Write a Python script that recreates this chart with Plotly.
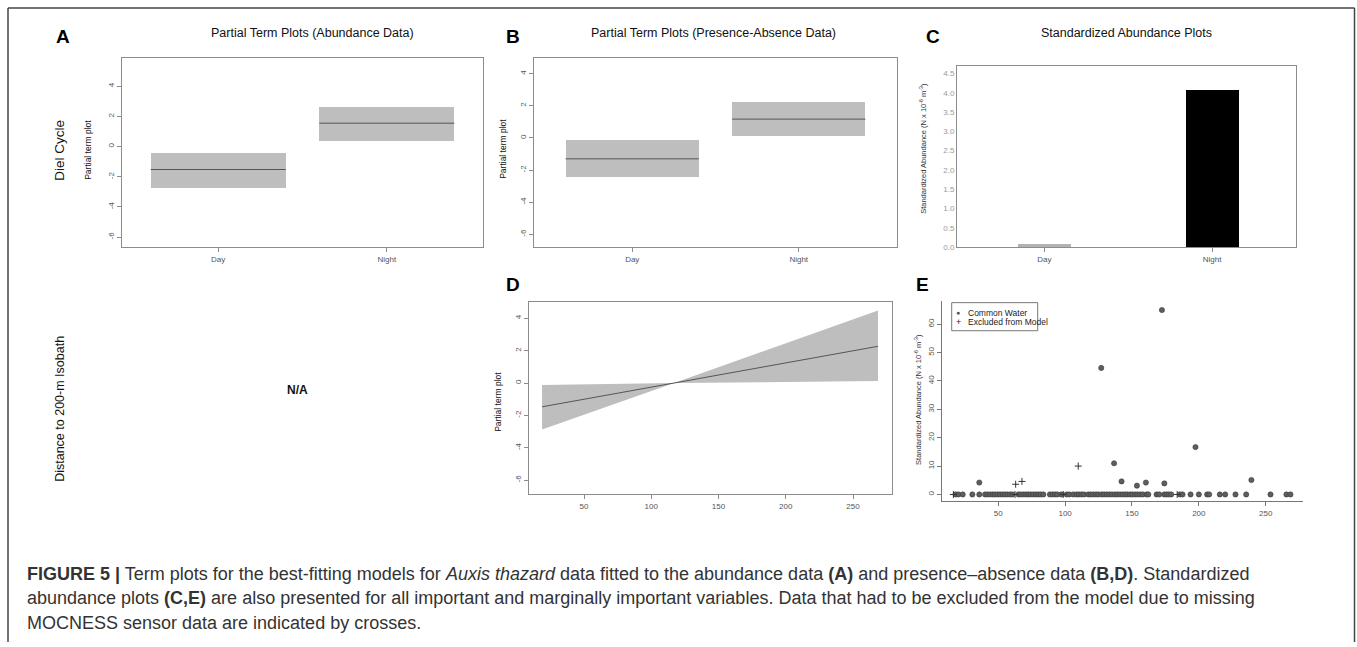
import plotly.graph_objects as go

W, H = 1357, 647

# ---------------- data ----------------
diel = ["Day", "Night"]

# A: partial term plot, abundance model
abund_fit = [-1.52, 1.55]
abund_lo = [-2.72, 0.39]
abund_hi = [-0.38, 2.66]

# B: partial term plot, presence-absence model
pa_fit = [-1.30, 1.17]
pa_lo = [-2.41, 0.12]
pa_hi = [-0.12, 2.28]

# C: standardized abundance by diel period
std_abund = [0.07, 4.05]

# D: distance to 200-m isobath, presence-absence term
dist_x = [18.8, 117.0, 268.6]
dist_fit = [-1.47, 0.0, 2.27]
dist_lo = [-2.88, 0.0, 0.12]
dist_hi = [-0.12, 0.0, 4.48]

# E: standardized abundance vs distance to 200-m isobath
common_x = [18.1, 20.1, 23.4, 30.6, 35.8, 40.1, 41.8, 43.8, 45.8, 47.5, 49.5, 51.3,
            53.3, 55.0, 56.8, 58.8, 60.5, 65.0, 66.7, 68.7, 70.7, 72.4, 74.2, 76.2,
            78.2, 79.9, 81.7, 83.7, 88.6, 90.6, 92.4, 94.1, 97.1, 101.1, 103.1, 106.1,
            108.6, 110.3, 112.3, 114.1, 117.3, 119.1, 121.1, 123.1, 124.8, 127.3, 129.1,
            131.1, 133.0, 135.0, 137.3, 139.0, 141.0, 143.0, 144.8, 146.5, 148.5, 150.2,
            152.2, 154.0, 156.0, 158.0, 161.0, 162.2, 168.4, 170.4, 174.2, 175.9, 177.6,
            179.3, 185.8, 187.8, 193.8, 200.0, 206.2, 207.7, 215.7, 219.7, 227.4, 235.4,
            253.6, 265.5, 268.5,
            35.8, 127.0, 136.6, 142.2, 153.7, 160.4, 172.4, 174.2, 197.5, 239.3]
common_y = [0, 0, 0, 0, 0, 0, 0, 0, 0, 0, 0, 0,
            0, 0, 0, 0, 0, 0, 0, 0, 0, 0, 0, 0,
            0, 0, 0, 0, 0, 0, 0, 0, 0, 0, 0, 0,
            0, 0, 0, 0, 0, 0, 0, 0, 0, 0, 0,
            0, 0, 0, 0, 0, 0, 0, 0, 0, 0, 0,
            0, 0, 0, 0, 0, 0, 0, 0, 0, 0, 0,
            0, 0, 0, 0, 0, 0, 0, 0, 0, 0, 0,
            0, 0, 0,
            4.2, 44.6, 11.0, 4.6, 3.1, 4.2, 65.0, 3.9, 16.7, 5.1]
excluded_x = [16.4, 62.5, 63.0, 67.7, 98.6, 109.8, 183.8]
excluded_y = [0, 0, 3.6, 4.6, 0, 10.0, 0]

term_ticks = [-6, -4, -2, 0, 2, 4]
std_ticks = [0.0, 0.5, 1.0, 1.5, 2.0, 2.5, 3.0, 3.5, 4.0, 4.5]
dist_ticks = [50, 100, 150, 200, 250]
scatter_ticks = [0, 10, 20, 30, 40, 50, 60]

caption_lines = [
    "<b>FIGURE 5 |</b> Term plots for the best-fitting models for <i>Auxis thazard</i> data "
    "fitted to the abundance data <b>(A)</b> and presence–absence data <b>(B,D)</b>. Standardized",
    "abundance plots <b>(C,E)</b> are also presented for all important and marginally "
    "important variables. Data that had to be excluded from the model due to missing",
    "MOCNESS sensor data are indicated by crosses.",
]

# ---------------- layout helpers ----------------
FONT = "Liberation Sans, Arial, Helvetica, sans-serif"
BOX = "#8c8c8c"
BAND = "#bebebe"
FITLINE = "#555555"


def xdom(px0, px1):
    return [px0 / W, px1 / W]


def ydom(py0, py1):
    return [1 - py1 / H, 1 - py0 / H]


def axis_style(**kw):
    d = dict(showline=True, linecolor=BOX, linewidth=1, mirror=True,
             ticks="outside", ticklen=4, tickcolor=BOX, tickwidth=1,
             showgrid=False, zeroline=False,
             tickfont=dict(family=FONT, size=8, color="#555"))
    d.update(kw)
    return d


fig = go.Figure()

# ---- A and B: categorical partial-term bands with fitted level ----
half = 0.4
for fit, lo, hi, ax in [(abund_fit, abund_lo, abund_hi, ""),
                        (pa_fit, pa_lo, pa_hi, "2")]:
    pos = [i + 1 for i in range(len(diel))]
    fig.add_trace(go.Bar(x=pos, y=[h - l for h, l in zip(hi, lo)], base=lo,
                         width=2 * half, marker=dict(color=BAND, line=dict(width=0)),
                         showlegend=False, hoverinfo="skip",
                         xaxis="x" + ax, yaxis="y" + ax))
    lx, ly = [], []
    for p, f in zip(pos, fit):
        lx += [p - half, p + half, None]
        ly += [f, f, None]
    fig.add_trace(go.Scatter(x=lx, y=ly, mode="lines",
                             line=dict(color=FITLINE, width=1),
                             showlegend=False, hoverinfo="skip",
                             xaxis="x" + ax, yaxis="y" + ax))

# ---- C: bar plot ----
fig.add_trace(go.Bar(x=[1, 2], y=std_abund, width=0.315,
                     marker=dict(color=["#b3b3b3", "#000000"], line=dict(width=0)),
                     showlegend=False, xaxis="x3", yaxis="y3"))

# ---- D: continuous term with band ----
fig.add_trace(go.Scatter(x=dist_x + dist_x[::-1], y=dist_hi + dist_lo[::-1],
                         fill="toself", fillcolor=BAND, mode="lines",
                         line=dict(width=0, color=BAND),
                         showlegend=False, hoverinfo="skip", xaxis="x4", yaxis="y4"))
fig.add_trace(go.Scatter(x=dist_x, y=dist_fit, mode="lines",
                         line=dict(color=FITLINE, width=1),
                         showlegend=False, xaxis="x4", yaxis="y4"))

# ---- E: scatter ----
fig.add_trace(go.Scatter(x=common_x, y=common_y, mode="markers",
                         marker=dict(symbol="circle", size=5.2, color="#5e5e5e",
                                     line=dict(color="#3a3a3a", width=0.6)),
                         showlegend=False, xaxis="x5", yaxis="y5"))
fig.add_trace(go.Scatter(x=excluded_x, y=excluded_y, mode="markers",
                         marker=dict(symbol="cross-thin", size=5,
                                     line=dict(color="#333", width=1)),
                         showlegend=False, xaxis="x5", yaxis="y5"))

term_text = [str(v) for v in term_ticks]

layout = dict(
    width=W, height=H, margin=dict(l=0, r=0, t=0, b=0),
    paper_bgcolor="white", plot_bgcolor="white", showlegend=False,
    bargap=0,
    xaxis=axis_style(domain=xdom(122, 483), range=[0.43, 2.57], anchor="y",
                     tickvals=[1, 2], ticktext=diel),
    yaxis=axis_style(domain=ydom(58, 249), range=[-6.66, 5.9], anchor="x",
                     tickvals=term_ticks, ticktext=term_text, tickangle=-90),
    xaxis2=axis_style(domain=xdom(534, 897), range=[0.41, 2.59], anchor="y2",
                      tickvals=[1, 2], ticktext=diel),
    yaxis2=axis_style(domain=ydom(58, 249), range=[-6.79, 5.0], anchor="x2",
                      tickvals=term_ticks, ticktext=term_text, tickangle=-90),
    xaxis3=axis_style(domain=xdom(957, 1296), range=[0.48, 2.5], anchor="y3",
                      tickvals=[1, 2], ticktext=diel),
    yaxis3=axis_style(domain=ydom(67, 249), range=[0, 4.68], ticks="", anchor="x3",
                      tickvals=std_ticks, tickformat=".1f",
                      tickfont=dict(family=FONT, size=8, color="#9a9a9a")),
    xaxis4=axis_style(domain=xdom(529, 892), range=[9.1, 279], anchor="y4",
                      tickvals=dist_ticks),
    yaxis4=axis_style(domain=ydom(304, 498), range=[-6.87, 5.03], anchor="x4",
                      tickvals=term_ticks, ticktext=term_text, tickangle=-90),
    xaxis5=axis_style(domain=xdom(942, 1303), range=[7.9, 277.9], mirror=False,
                      anchor="y5", linecolor="#777", tickcolor="#777",
                      tickvals=dist_ticks),
    yaxis5=axis_style(domain=ydom(303, 505), range=[-2.34, 68.3], mirror=False,
                      anchor="x5", linecolor="#777", tickcolor="#777",
                      tickvals=scatter_ticks, tickangle=-90),
)
fig.update_layout(**layout)

ann = []


def note(text, px, py, size, color="#111", angle=0, xanchor="center", bold=False):
    if bold:
        text = "<b>" + text + "</b>"
    ann.append(dict(text=text, x=px / W, y=1 - py / H, xref="paper", yref="paper",
                    showarrow=False, textangle=angle, xanchor=xanchor, yanchor="middle",
                    font=dict(family=FONT, size=size, color=color)))


# panel letters
for letter, px, py in [("A", 63, 37), ("B", 513, 37), ("C", 933, 37),
                       ("D", 513, 287), ("E", 922, 287)]:
    note(letter, px, py, 19, "#000", bold=True)

# column titles
note("Partial Term Plots (Abundance Data)", 312, 33, 12.5)
note("Partial Term Plots (Presence-Absence Data)", 713, 33, 12.5)
note("Standardized Abundance Plots", 1126, 33, 12.5)

# row labels
note("Diel Cycle", 60, 152, 13.5, angle=-90)
note("Distance to 200-m Isobath", 60, 412, 12.5, angle=-90)
note("N/A", 297, 393, 12, bold=True)

# axis titles
note("Partial term plot", 88, 151, 8.5, angle=-90)
note("Partial term plot", 503, 150, 8.5, angle=-90)
note("Partial term plot", 498, 405, 8.5, angle=-90)
std_title = "Standardized Abundance (N x 10<sup>-6</sup> m<sup>-3</sup>)"
note(std_title, 923, 150, 7.5, "#333", angle=-90)
note(std_title, 918, 403, 7.5, "#333", angle=-90)

# legend for panel E
note("●", 958, 315, 7, "#555")
note("+", 958, 324.5, 9, "#222")
note("Common Water", 965.5, 315, 8.5, "#222", xanchor="left")
note("Excluded from Model", 965.5, 324.5, 8.5, "#222", xanchor="left")

# caption
for i, line in enumerate(caption_lines):
    note(line, 25, 578 + 25 * i, 18, "#333", xanchor="left")

fig.update_layout(annotations=ann)

shapes = [
    # legend frame
    dict(type="rect", xref="paper", yref="paper",
         x0=951.7 / W, x1=1037.7 / W, y0=1 - 333.3 / H, y1=1 - 305 / H,
         line=dict(color="#777", width=1)),
    # outer figure frame
    dict(type="line", xref="paper", yref="paper", x0=8 / W, x1=8 / W,
         y0=0, y1=1 - 8 / H, line=dict(color="#444", width=1.5)),
    dict(type="line", xref="paper", yref="paper", x0=8 / W, x1=1354.5 / W,
         y0=1 - 8 / H, y1=1 - 8 / H, line=dict(color="#444", width=1.5)),
    dict(type="line", xref="paper", yref="paper", x0=1354.5 / W, x1=1354.5 / W,
         y0=0, y1=1 - 8 / H, line=dict(color="#444", width=1.5)),
]
fig.update_layout(shapes=shapes)

fig.write_html("out.html")
